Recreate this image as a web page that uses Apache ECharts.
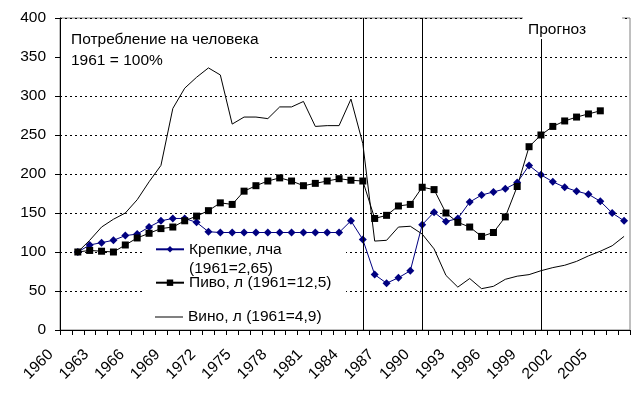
<!DOCTYPE html>
<html><head><meta charset="utf-8">
<script src="https://cdn.jsdelivr.net/npm/echarts@6/dist/echarts.min.js"></script>
<style>html,body{margin:0;padding:0;background:#fff}#c{width:634px;height:402px}</style>
</head><body><div id="c"></div>
<script>
const years = ['1960','1961','1962','1963','1964','1965','1966','1967','1968','1969',
  '1970','1971','1972','1973','1974','1975','1976','1977','1978','1979',
  '1980','1981','1982','1983','1984','1985','1986','1987','1988','1989',
  '1990','1991','1992','1993','1994','1995','1996','1997','1998','1999',
  '2000','2001','2002','2003','2004','2005','2006','2007'];
const seriesNames = ['Крепкие, лча', 'Пиво, л', 'Вино, л'];
const legendLabels = ['\nКрепкие, лча\n(1961=2,65)', 'Пиво, л (1961=12,5)', 'Вино, л (1961=4,9)'];
const spirits = [null,100,109,112,115,121,123,132,140,143,
  143,138,126,125,125,125,125,125,125,125,
  125,125,125,125,140,116,71,60,67,76,
  135,151,139,143,164,173,177,181,189,211,
  199,190,183,178,174,165,150,140];
const beer = [null,100,102,101,100,109,118,124,130,132,
  140,146,153,163,161,178,185,191,195,191,
  185,188,191,194,192,191,143,147,159,161,
  183,180,150,138,132,120,125,145,184,235,
  250,261,268,273,277,281,null,null];
const wine = [null,100,115,132,142,150,167,190,211,284,
  310,324,336,327,264,273,273,271,286,286,
  293,261,262,262,296,239,114,115,132,133,
  123,104,70,55,66,53,56,65,69,71,
  76,80,83,88,95,101,108,120];
const markYears = ['1985','1990','2000'];
const titleText = 'Потребление на человека\n1961 = 100%';
const forecastText = 'Прогноз';
const yMin = 0, yMax = 400, yStep = 50;

const FONT = 'Liberation Sans, Arial, sans-serif';
const FS = 15.5;
const NB = '\u00a0\u00a0\u00a0\u00a0\u00a0';
const chart = echarts.init(document.getElementById('c'), null, {renderer: 'canvas'});
const legendTops = [220.8, 273.2, 307.5];
const legendIcons = [null, null, 'rect'];
const legendItemH = [8, 8, 1];
chart.setOption({
  animation: false,
  backgroundColor: '#fff',
  textStyle: {fontFamily: FONT, color: '#000'},
  grid: {left: 60, right: 4, top: 18, bottom: 72, show: true, borderColor: '#808080', borderWidth: 1, backgroundColor: 'transparent'},
  graphic: [
    {type: 'rect', shape: {x: 61, y: 19, width: 206, height: 44}, style: {fill: '#fff'}, z: 1, silent: true},
    {type: 'rect', shape: {x: 142, y: 228, width: 204, height: 101}, style: {fill: '#fff'}, z: 1, silent: true}
  ],
  title: [
    {text: titleText, left: 71, top: 28.8, padding: 0,
     textStyle: {fontSize: FS, fontWeight: 'normal', lineHeight: 21, color: '#000', fontFamily: FONT}},
    {text: forecastText, left: 523, top: 17, padding: [4, 36, 1, 5], backgroundColor: '#fff',
     textStyle: {fontSize: FS, fontWeight: 'normal', lineHeight: 17, color: '#000', fontFamily: FONT}}
  ],
  legend: seriesNames.map((n, i) => ({
    data: [legendIcons[i] ? {name: n, icon: legendIcons[i]} : n],
    orient: 'vertical', left: 155, top: legendTops[i], padding: 0,
    itemWidth: 28, itemHeight: legendItemH[i], itemGap: 0, selectedMode: false,
    formatter: () => legendLabels[i],
    textStyle: {fontSize: FS, lineHeight: 19, color: '#000', fontFamily: FONT}
  })),
  xAxis: {
    type: 'category', data: years, boundaryGap: true,
    axisLine: {lineStyle: {color: '#000', width: 1}},
    axisTick: {show: true, interval: 0, length: 5, inside: false, lineStyle: {color: '#000'}},
    axisLabel: {show: true, interval: 2, rotate: 45, margin: 7,
      formatter: v => v + NB,
      fontSize: FS, color: '#000', fontFamily: FONT},
    splitLine: {show: false}
  },
  yAxis: {
    type: 'value', min: yMin, max: yMax, interval: yStep,
    axisLine: {show: true, lineStyle: {color: '#000', width: 1}},
    axisTick: {show: true, length: 5, lineStyle: {color: '#000'}},
    axisLabel: {margin: 14, fontSize: FS, color: '#000', fontFamily: FONT},
    splitLine: {show: true, lineStyle: {color: '#000', width: 1, type: [2, 3]}}
  },
  series: [
    {name: seriesNames[0], type: 'line', data: spirits, symbol: 'diamond', symbolSize: 8,
     showAllSymbol: true,
     itemStyle: {color: '#000080'}, lineStyle: {color: '#000080', width: 1}, z: 2,
     markLine: {symbol: 'none', silent: true, label: {show: false},
       lineStyle: {color: '#000', type: 'solid', width: 1},
       data: markYears.map(y => ({xAxis: y}))}},
    {name: seriesNames[1], type: 'line', data: beer, symbol: 'rect', symbolSize: 7,
     showAllSymbol: true,
     itemStyle: {color: '#000'}, lineStyle: {color: '#000', width: 1}, z: 2},
    {name: seriesNames[2], type: 'line', data: wine, symbol: 'none', showSymbol: false,
     itemStyle: {color: '#000'}, lineStyle: {color: '#000', width: 1}, z: 2}
  ]
});
</script></body></html>
